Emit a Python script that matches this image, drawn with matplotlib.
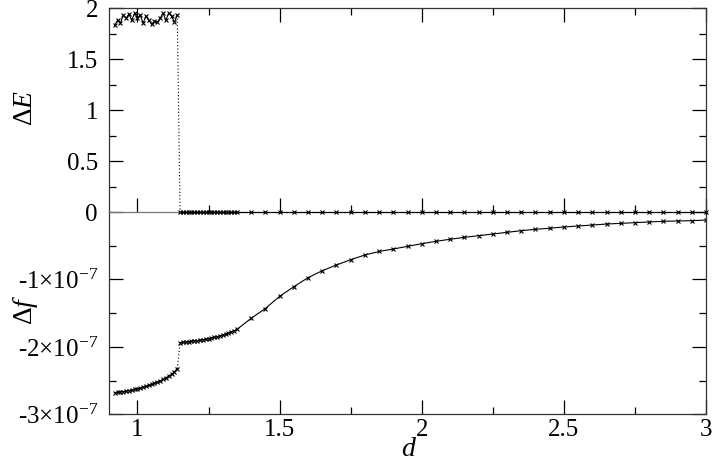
import matplotlib
matplotlib.use("Agg")
import matplotlib.pyplot as plt
from matplotlib.ticker import MultipleLocator, FixedLocator, FuncFormatter

plt.rcParams['font.family'] = ['Liberation Serif', 'DejaVu Serif']
plt.rcParams['mathtext.fontset'] = 'custom'
plt.rcParams['mathtext.rm'] = 'Liberation Serif'
plt.rcParams['mathtext.it'] = 'Liberation Serif:italic'

# energy difference before the jump (d < 1.15)
d_left = [0.92, 0.93, 0.94, 0.95, 0.96, 0.97, 0.98, 0.99, 1.00, 1.01, 1.02, 1.03,
          1.04, 1.05, 1.06, 1.07, 1.08, 1.09, 1.10, 1.11, 1.12, 1.13, 1.14]
dE_left = [1.83, 1.88, 1.85, 1.93, 1.90, 1.94, 1.88, 1.95, 1.90, 1.93, 1.85, 1.92,
           1.88, 1.84, 1.87, 1.86, 1.90, 1.95, 1.88, 1.95, 1.92, 1.86, 1.93]
df_left = [-2.677, -2.672, -2.666, -2.660, -2.653, -2.645, -2.637, -2.628, -2.618,
           -2.607, -2.596, -2.583, -2.570, -2.555, -2.539, -2.521, -2.502, -2.481,
           -2.458, -2.432, -2.403, -2.368, -2.320]

# after the jump
d_right = [1.15, 1.16, 1.17, 1.18, 1.19, 1.20, 1.21, 1.22, 1.23, 1.24, 1.25, 1.26,
           1.27, 1.28, 1.29, 1.30, 1.31, 1.32, 1.33, 1.34, 1.35,
           1.40, 1.45, 1.50, 1.55, 1.60, 1.65, 1.70, 1.75, 1.80, 1.85, 1.90, 1.95,
           2.00, 2.05, 2.10, 2.15, 2.20, 2.25, 2.30, 2.35, 2.40, 2.45, 2.50, 2.55,
           2.60, 2.65, 2.70, 2.75, 2.80, 2.85, 2.90, 2.95, 3.00]
dE_right = [0.0] * len(d_right)
df_right = [-1.935, -1.930, -1.926, -1.921, -1.916, -1.911, -1.905, -1.899, -1.892,
            -1.885, -1.877, -1.868, -1.858, -1.847, -1.835, -1.822, -1.808, -1.793,
            -1.776, -1.758, -1.740,
            -1.575, -1.430, -1.250, -1.107, -0.973, -0.870, -0.785, -0.707, -0.637,
            -0.585, -0.548, -0.509, -0.470, -0.434, -0.404, -0.375, -0.351, -0.326,
            -0.301, -0.277, -0.256, -0.241, -0.222, -0.207, -0.193, -0.178, -0.168,
            -0.158, -0.148, -0.138, -0.133, -0.129, -0.119]
scale = 1e-7

fig = plt.figure(figsize=(7.12, 4.63), dpi=100)
ax_f = fig.add_axes([0.1531, 0.1048, 0.8385, 0.4373])
ax_e = fig.add_axes([0.1531, 0.5421, 0.8385, 0.4406])
ax_e.set_zorder(2)
ax_e.patch.set_visible(False)

mk = dict(color='black', lw=0.8, marker='x', ms=3.5, mew=0.8)

# top panel: Delta E
ax_e.plot(d_left, dE_left, clip_on=False, **mk)
ax_e.plot(d_right, dE_right, clip_on=False, zorder=5, **mk)
ax_e.plot([d_left[-1], d_right[0]], [dE_left[-1], dE_right[0]],
          color='black', lw=0.8, ls=(0, (1, 2)))
ax_e.set_xlim(0.9, 3)
ax_e.set_ylim(0, 2)
ax_e.yaxis.set_major_locator(MultipleLocator(0.5))
ax_e.yaxis.set_minor_locator(MultipleLocator(0.25))
ax_e.yaxis.set_major_formatter(FuncFormatter(lambda v, p: f"{v:g}"))

# bottom panel: Delta f
ax_f.plot(d_left, [v * scale for v in df_left], **mk)
ax_f.plot(d_right, [v * scale for v in df_right], **mk)
ax_f.plot([d_left[-1], d_right[0]], [df_left[-1] * scale, df_right[0] * scale],
          color='black', lw=0.8, ls=(0, (1, 2)))
ax_f.set_xlim(0.9, 3)
ax_f.set_ylim(-3e-7, 0)
ax_f.yaxis.set_major_locator(FixedLocator([-3e-7, -2e-7, -1e-7]))
ax_f.yaxis.set_minor_locator(FixedLocator([-2.5e-7, -1.5e-7, -0.5e-7]))
ax_f.yaxis.set_major_formatter(
    FuncFormatter(lambda v, p: f"-{abs(round(v / 1e-7)):d}\u00d710$^{{-7}}$"))
ax_f.xaxis.set_major_formatter(FuncFormatter(lambda v, p: f"{v:g}"))

for ax in (ax_e, ax_f):
    ax.xaxis.set_major_locator(MultipleLocator(0.5))
    ax.xaxis.set_minor_locator(MultipleLocator(0.25))
    ax.tick_params(which='both', direction='in', right=True, labelsize=18, width=0.9)
    ax.tick_params(which='major', length=10)
    ax.tick_params(which='minor', length=5)
    for s in ax.spines.values():
        s.set_linewidth(0.9)
        s.set_color('#333333')

ax_e.tick_params(axis='x', which='both', top=True, bottom=True, labelbottom=False)
ax_e.spines['bottom'].set_color('#777777')
ax_f.spines['top'].set_visible(False)
ax_f.tick_params(axis='x', which='both', top=False, bottom=True)
ax_f.tick_params(axis='x', pad=3)
ax_f.tick_params(axis='y', pad=8)
ax_e.tick_params(axis='y', pad=8)

fig.text(25 / 712, 1 - 108 / 463, r'$\Delta E$', rotation=90, fontsize=20,
         ha='center', va='center')
fig.text(25 / 712, 1 - 310 / 463, r'$\Delta f$', rotation=90, fontsize=20,
         ha='center', va='center')
fig.text(409 / 712, 1 - 449 / 463, r'$d$', fontsize=20, ha='center', va='center')

fig.savefig('out.png', dpi=100)
